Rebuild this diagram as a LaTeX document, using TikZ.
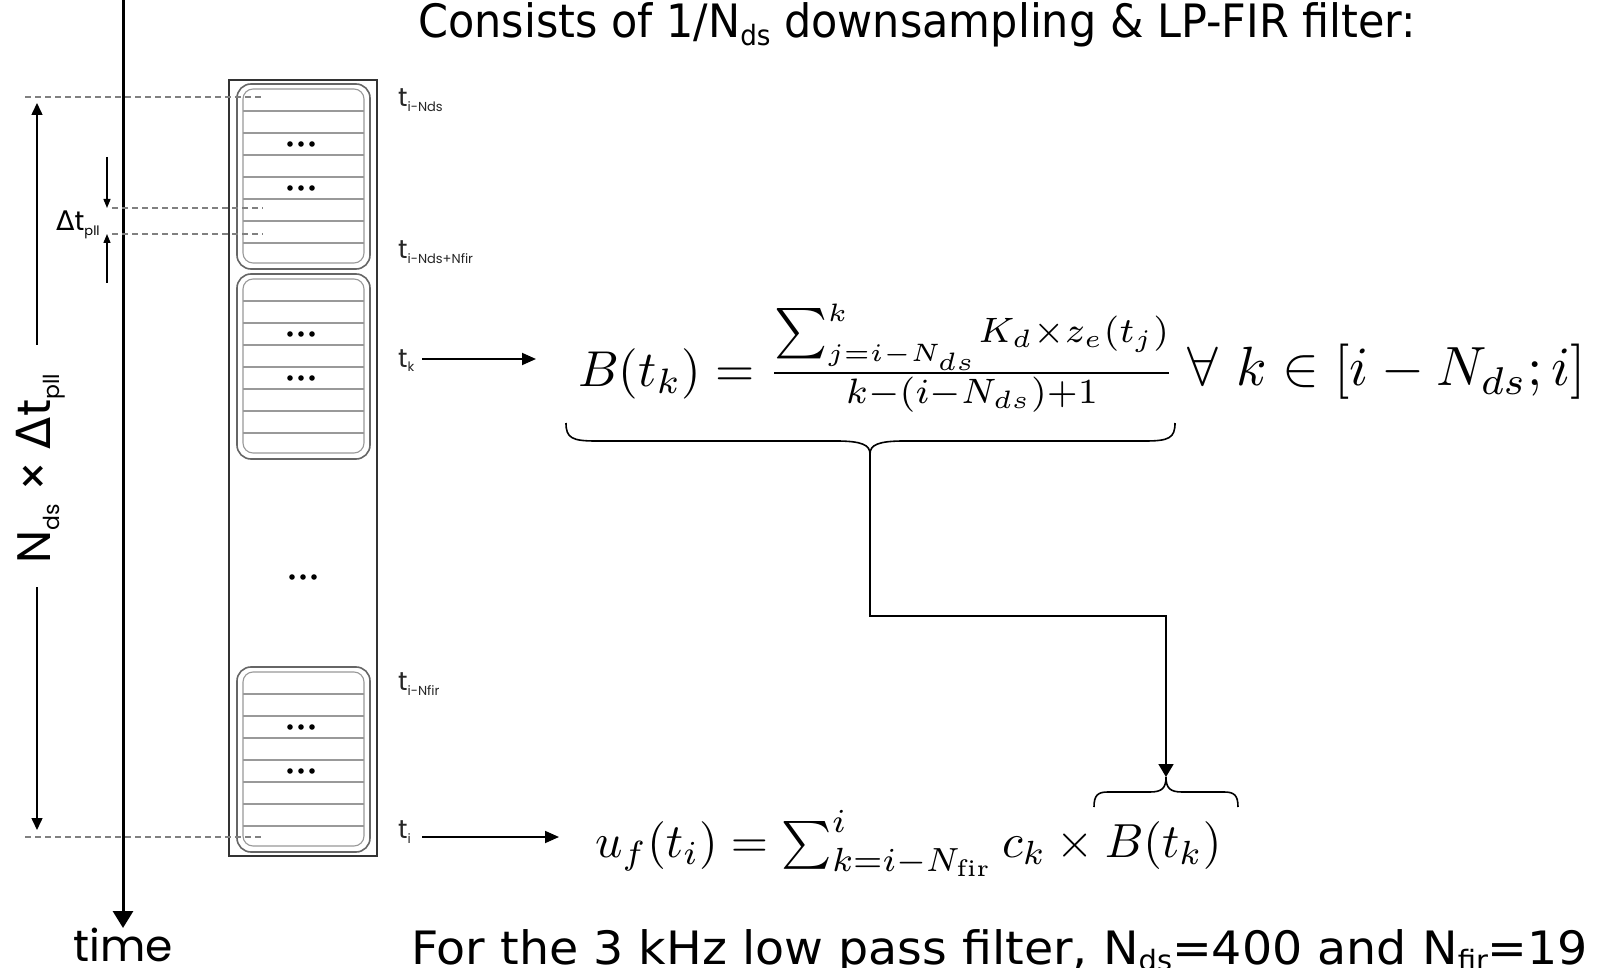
\documentclass[tikz,border=0pt]{standalone}
\usepackage{fontspec}
\usepackage{graphicx}
\usetikzlibrary{arrows.meta}
\newfontfamily\geo{Poppins}
\newfontfamily\dv{DejaVu Sans}
\newcommand\tlab[1]{{\geo\fontsize{26}{26}\selectfont t\raisebox{-5pt}{\fontsize{13}{13}\selectfont #1}}}
\tikzset{
  boxouter/.style={draw=black!60, line width=1.6pt, rounded corners=14pt},
  boxinner/.style={draw=black!40, line width=1.1pt, rounded corners=10pt},
  rowline/.style={draw=black!40, line width=1.1pt},
  guide/.style={draw=black!50, line width=1.1pt, dash pattern=on 6pt off 4pt},
  smallarr/.style={draw=black, line width=1.4pt, -{Triangle[length=9pt,width=7pt]}},
  bigarr/.style={draw=black, line width=1.5pt, -{Triangle[length=12pt,width=11pt]}},
  tarr/.style={draw=black, line width=1.8pt, -{Triangle[length=14pt,width=12pt]}},
  conn/.style={draw=black, line width=1.8pt, -{Triangle[length=13pt,width=15pt]}},
  brace/.style={draw=black, line width=1.6pt},
  lbl/.style={inner sep=0pt, text=black!85}
}
\begin{document}
\begin{tikzpicture}[x=1pt,y=-1pt]
\useasboundingbox[fill=white] (0,0) rectangle (1599,968);

% time axis
\coordinate (tTop) at (123,0);
\node[anchor=base, inner sep=0pt] (time) at (123,961) {\geo\fontsize{44}{44}\selectfont time};
\coordinate (tEnd) at (123,928);
\draw[line width=3pt, -{Triangle[length=17pt,width=20pt]}] (tTop) -- (tEnd);

% big frame
\node[draw=black!80, line width=2pt, minimum width=148pt, minimum height=776pt, inner sep=0pt] (frame) at (303,468) {};

% memory blocks
\foreach \T in {89,279,672}{
  \draw[boxouter] (237,\T-5) rectangle (370,\T+180);
  \draw[boxinner] (243,\T) rectangle (364,\T+174);
  \foreach \d in {22,44,66,88,110,132,154}{
    \draw[rowline] (243,\T+\d) -- (364,\T+\d);
  }
  \foreach \d in {55,99}{
    \foreach \x in {290,301,312}{
      \fill (\x,\T+\d) circle (2.8pt);
    }
  }
}
\foreach \x in {292,303,314}{
  \fill (\x,577) circle (2.8pt);
}

% guide lines
\coordinate (g1a) at (25,97);  \coordinate (g1b) at (263,97);
\coordinate (g2a) at (112,208); \coordinate (g2b) at (263,208);
\coordinate (g3a) at (112,234); \coordinate (g3b) at (263,234);
\coordinate (g4a) at (25,837); \coordinate (g4b) at (263,837);
\draw[guide] (g1a) -- (g1b);
\draw[guide] (g2a) -- (g2b);
\draw[guide] (g3a) -- (g3b);
\draw[guide] (g4a) -- (g4b);

% N_ds x dt arrow
\node[rotate=90, anchor=base, inner sep=0pt] (ndsl) at (50,469)
  {\geo\fontsize{47}{47}\selectfont N\raisebox{-9pt}{\fontsize{22}{22}\selectfont ds} × {\dv Δ}t\raisebox{-9pt}{\fontsize{22}{22}\selectfont pll}};
\coordinate (nTopS) at (37,345); \coordinate (nTopE) at (37,103);
\coordinate (nBotS) at (37,587); \coordinate (nBotE) at (37,830);
\draw[bigarr] (nTopS) -- (nTopE);
\draw[bigarr] (nBotS) -- (nBotE);

% delta t arrows
\coordinate (d1s) at (107,157); \coordinate (d1e) at (107,208);
\coordinate (d2s) at (107,283); \coordinate (d2e) at (107,234);
\draw[smallarr] (d1s) -- (d1e);
\draw[smallarr] (d2s) -- (d2e);
\node[anchor=base west, inner sep=0pt] (dtl) at (56,231)
  {\fontsize{27}{27}\selectfont{\dv Δ}{\geo t\raisebox{-5pt}{\fontsize{13}{13}\selectfont pll}}};

% time labels
\node[lbl, anchor=base west] (l1) at (398,107) {\tlab{i-Nds}};
\node[lbl, anchor=base west] (l2) at (398,259) {\tlab{i-Nds+Nfir}};
\node[lbl, anchor=base west] (l3) at (398,367) {\tlab{k}};
\node[lbl, anchor=base west] (l4) at (398,690) {\tlab{i-Nfir}};
\node[lbl, anchor=base west] (l5) at (398,838) {\tlab{i}};

% formulas
\node[anchor=base west, inner sep=0pt] (fB) at (578,386)
  {\resizebox{597pt}{!}{$B(t_k) = \frac{\sum_{j=i-N_{ds}}^k\!K_d\times z_e(t_j)}{k-(i-N_{ds})+1}$}};
\node[anchor=base west, inner sep=0pt] (fB2) at (1187,386)
  {\resizebox{399pt}{!}{$\forall\ k \in [i-N_{ds}; i]$}};
\node[anchor=base west, inner sep=0pt] (fU) at (595,857)
  {\resizebox{626pt}{!}{$u_f(t_i) = \sum_{k=i-N_{\mathrm{fir}}}^i c_k \times B(t_k)$}};

% arrows from labels
\coordinate (tkS) at (422,359); \coordinate (tkE) at (536,359);
\coordinate (tiS) at (422,837); \coordinate (tiE) at (559,837);
\draw[tarr] (tkS) -- (tkE);
\draw[tarr] (tiS) -- (tiE);

% under brace
\coordinate (ubL) at (566,423); \coordinate (ubR) at (1175,423); \coordinate (ubTip) at (870,454);
\draw[brace] (ubL) .. controls (566,438) and (572,441) .. (596,441) -- (836,441)
  .. controls (862,441) and (870,445) .. (ubTip)
  .. controls (870,445) and (878,441) .. (904,441) -- (1145,441)
  .. controls (1169,441) and (1175,438) .. (ubR);
% over brace
\coordinate (obL) at (1094,807); \coordinate (obR) at (1238,807); \coordinate (obTip) at (1166,777);
\draw[brace] (obL) .. controls (1094,795) and (1098,792) .. (1108,792) -- (1150,792)
  .. controls (1162,792) and (1166,788) .. (obTip)
  .. controls (1166,788) and (1170,792) .. (1182,792) -- (1224,792)
  .. controls (1234,792) and (1238,795) .. (obR);
% connector
\draw[conn] (ubTip) -- ++(0,162) -| (obTip);

% texts
\node[anchor=base west, inner sep=0pt] (title) at (418,38)
  {\resizebox{998pt}{\height}{\dv\fontsize{46}{50}\selectfont Consists of 1/N\raisebox{-8pt}{\fontsize{28}{28}\selectfont ds} downsampling \& LP-FIR filter:}};
\node[anchor=base west, inner sep=0pt] (note) at (411,964)
  {\resizebox{1177pt}{\height}{\dv\fontsize{46}{50}\selectfont For the 3 kHz low pass filter, N\raisebox{-6pt}{\fontsize{28}{28}\selectfont ds}=400 and N\raisebox{-6pt}{\fontsize{28}{28}\selectfont fir}=19}};
\end{tikzpicture}
\end{document}
